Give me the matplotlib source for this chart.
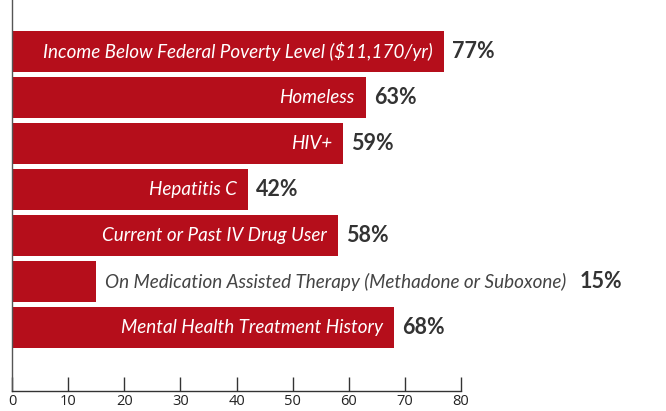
import matplotlib
matplotlib.use("Agg")
import matplotlib.pyplot as plt

categories = [
    "Income Below Federal Poverty Level ($11,170/yr)",
    "Homeless",
    "HIV+",
    "Hepatitis C",
    "Current or Past IV Drug User",
    "On Medication Assisted Therapy (Methadone or Suboxone)",
    "Mental Health Treatment History",
]
values = [77, 63, 59, 42, 58, 15, 68]
inside = [True, True, True, True, True, False, True]
xticks = [0, 10, 20, 30, 40, 50, 60, 70, 80]

bar_color = "#b50e1b"
font_it = "Lato"
lab_size = 13.6
pct_size = 15.5

fig = plt.figure(figsize=(6.66, 4.11), dpi=100)
ax = fig.add_axes([12/666, 20/411, (461-12)/666, 391/411])

ys = list(range(len(categories)))
ax.barh(ys, values, height=0.89, color=bar_color)
ax.set_xlim(0, 80)
ax.set_ylim(6 + 1.38, -1.12)

for y, v, lab, ins in zip(ys, values, categories, inside):
    if ins:
        ax.annotate(lab, (v, y), xytext=(-8, 0), textcoords="offset points",
                    ha="right", va="center", color="white", fontsize=lab_size,
                    style="italic", family=font_it)
        ax.annotate(f"{v}%", (v, y), xytext=(6, 0), textcoords="offset points",
                    ha="left", va="center", color="#333333", fontsize=pct_size,
                    fontweight="bold", family=font_it, annotation_clip=False)
    else:
        t = ax.annotate(lab, (v, y), xytext=(6, 0), textcoords="offset points",
                        ha="left", va="center", color="#444444", fontsize=lab_size,
                        style="italic", family=font_it,
                        annotation_clip=False)
        fig.canvas.draw()
        bb = t.get_window_extent()
        xend = ax.transData.inverted().transform((bb.x1, 0))[0]
        ax.annotate(f"{v}%", (xend, y), xytext=(10, 0), textcoords="offset points",
                    ha="left", va="center", color="#333333", fontsize=pct_size,
                    fontweight="bold", family=font_it, annotation_clip=False)

ax.set_xticks(xticks)
ax.set_xticklabels([str(t) for t in xticks], fontsize=10.5, color="#222222", family="Open Sans")
ax.tick_params(axis="x", direction="in", length=10, width=1, color="#333333", pad=2)
ax.set_yticks([])
for s in ["top", "right"]:
    ax.spines[s].set_visible(False)
ax.spines["left"].set_color("#555555")
ax.spines["bottom"].set_color("#333333")
ax.spines["left"].set_linewidth(1)
ax.spines["bottom"].set_linewidth(1)

fig.savefig("out.png", dpi=100)
